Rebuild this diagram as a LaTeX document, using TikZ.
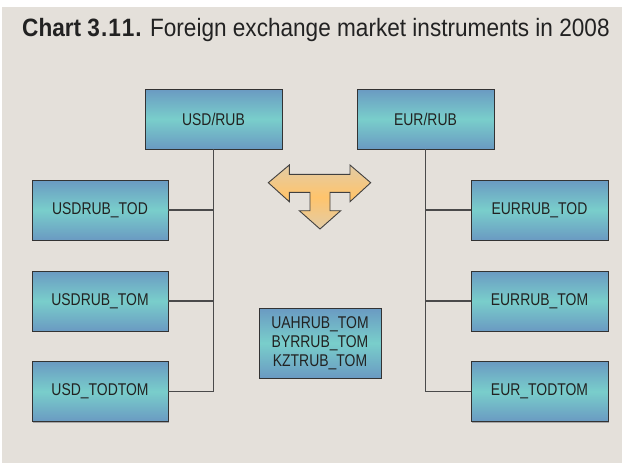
\documentclass[tikz,border=0pt]{standalone}
\usepackage{fontspec}
\setmainfont[FakeStretch=0.82]{Liberation Sans}
\newfontfamily\titlefont[FakeStretch=0.9]{Liberation Sans}
\definecolor{bg}{HTML}{E4E0DA}
\definecolor{bluedge}{HTML}{6A9AC2}
\definecolor{tealmid}{HTML}{79CECB}
\definecolor{tanedge}{HTML}{E2CCA6}
\definecolor{orgmid}{HTML}{FFC46C}
\definecolor{txt}{HTML}{222222}
\definecolor{ln}{HTML}{4A4A4A}
\pgfdeclareverticalshading{boxshade}{100bp}{color(0bp)=(bluedge); color(25bp)=(bluedge); color(50bp)=(tealmid); color(75bp)=(bluedge); color(100bp)=(bluedge)}
\pgfdeclareverticalshading{arrshade}{100bp}{color(0bp)=(tanedge); color(25bp)=(tanedge); color(50bp)=(orgmid); color(75bp)=(tanedge); color(100bp)=(tanedge)}
\tikzset{
  ibox/.style={rectangle, draw=black!80, line width=0.9pt, shading=boxshade,
    minimum width=136pt, minimum height=60pt, inner sep=0pt, text=txt,
    font=\fontsize{17}{19}\selectfont, align=center,
    preaction={fill=black!35, transform canvas={xshift=1.2pt, yshift=-1.2pt}}},
  conn/.style={draw=ln, line width=1.1pt}
}
\begin{document}
\begin{tikzpicture}[x=1pt, y=-1pt]
\useasboundingbox (0,0) rectangle (622,463);
\fill[white] (0,0) rectangle (622,463);
\fill[bg] (2,7) rectangle (622,463);
\node[anchor=base west, inner sep=0pt, text=txt, font=\titlefont\fontsize{25.1}{28}\selectfont] (title) at (22,36) {\textbf{Chart 3\kern1pt.\kern1pt1\kern1pt1\kern1pt.} Foreign exchange market instruments in 2008};

\node[ibox, minimum width=137pt] (usd) at (213.5,119) {USD/RUB};
\node[ibox, minimum width=137pt] (eur) at (425.5,119) {EUR/RUB};
\node[ibox] (usdtod) at (100,210) {USDRUB\_TOD};
\node[ibox] (usdtom) at (100,301) {USDRUB\_TOM};
\node[ibox] (usdtt) at (100,391.5) {USD\_TODTOM};
\node[ibox, minimum width=137pt] (eurtod) at (539.5,210) {EURRUB\_TOD};
\node[ibox, minimum width=137pt] (eurtom) at (539.5,301) {EURRUB\_TOM};
\node[ibox, minimum width=137pt] (eurtt) at (539.5,391.5) {EUR\_TODTOM};
\node[ibox, minimum width=122pt, minimum height=70pt] (other) at (320,343) {UAHRUB\_TOM\\BYRRUB\_TOM\\KZTRUB\_TOM};

\draw[conn] (usd.south) -- (usd.south |- usdtt.east) -- (usdtt.east);
\draw[conn] (usdtod.east) -- (usdtod.east -| usd.south);
\draw[conn] (usdtom.east) -- (usdtom.east -| usd.south);
\draw[conn] (eur.south) -- (eur.south |- eurtt.west) -- (eurtt.west);
\draw[conn] (eurtod.west) -- (eurtod.west -| eur.south);
\draw[conn] (eurtom.west) -- (eurtom.west -| eur.south);

\draw[draw=black!75, line width=0.9pt, shading=arrshade]
  (268.3,182.7) -- (289.3,165) -- (289.3,174.3) -- (350,174.3) -- (350,165)
  -- (370.7,182.7) -- (350,201.7) -- (350,192.3) -- (330,192.3) -- (330,210.7)
  -- (340.7,210.7) -- (320,229) -- (299.3,210.7) -- (310,210.7) -- (310,192.3)
  -- (289.3,192.3) -- (289.3,201.7) -- cycle;
\end{tikzpicture}
\end{document}
